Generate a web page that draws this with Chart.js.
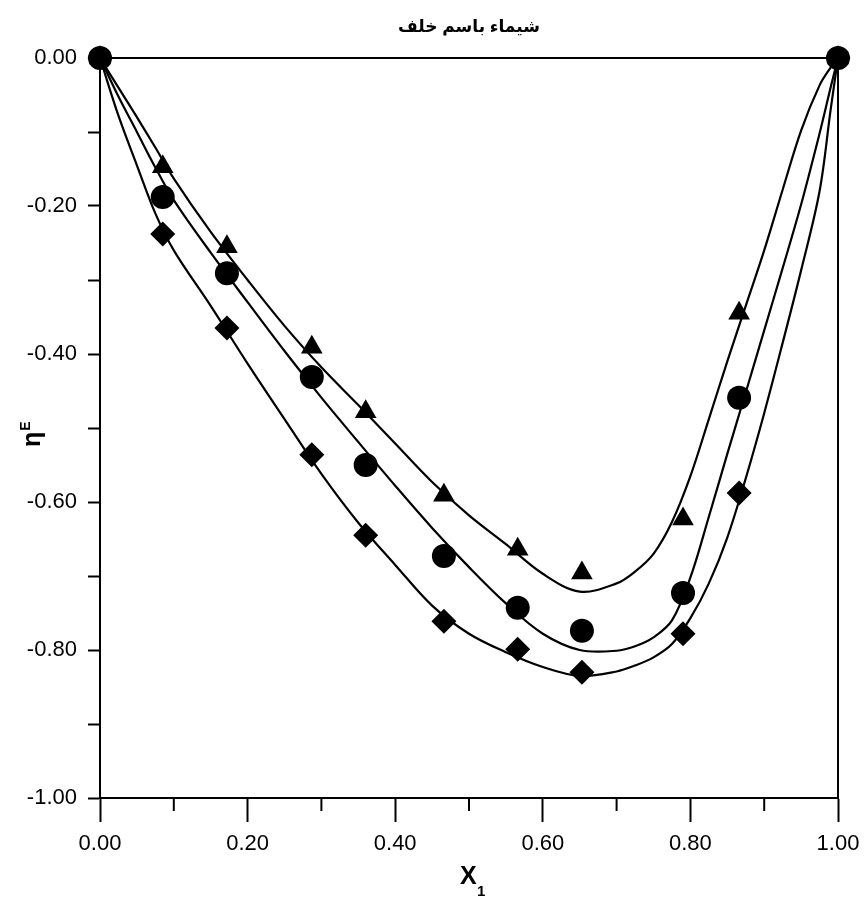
<!DOCTYPE html>
<html>
<head>
<meta charset="utf-8">
<script src="https://cdn.jsdelivr.net/npm/chart.js@4.4.1/dist/chart.umd.min.js"></script>
<style>
  html, body { margin: 0; padding: 0; background: #fff; }
</style>
</head>
<body>
<canvas id="chart" width="864" height="900"></canvas>
<script>
// titulo y ejes
const titleText = 'شيماء باسم خلف';

// puntos experimentales
const markerX = [0, 0.085, 0.172, 0.287, 0.360, 0.466, 0.566, 0.653, 0.790, 0.866, 1];
const triangles = [0, -0.147, -0.255, -0.391, -0.478, -0.591, -0.664, -0.696, -0.623, -0.345, 0];
const circles = [0, -0.188, -0.291, -0.431, -0.550, -0.673, -0.743, -0.774, -0.723, -0.459, 0];
const diamonds = [0, -0.238, -0.365, -0.536, -0.645, -0.761, -0.799, -0.830, -0.778, -0.588, 0];

// curvas ajustadas
const curveX = [0, 0.025, 0.05, 0.075, 0.1, 0.15, 0.2, 0.25, 0.3, 0.35, 0.4, 0.45, 0.5, 0.55, 0.6, 0.65, 0.7, 0.725, 0.75, 0.775, 0.8, 0.825, 0.85, 0.875, 0.9, 0.925, 0.95, 0.975, 0.99, 1];
const curveT = [0, -0.04, -0.08, -0.121, -0.163, -0.235, -0.30, -0.362, -0.418, -0.469, -0.521, -0.573, -0.618, -0.657, -0.697, -0.721, -0.71, -0.694, -0.670, -0.627, -0.565, -0.488, -0.410, -0.335, -0.26, -0.178, -0.098, -0.037, -0.013, 0];
const curveC = [0, -0.052, -0.10, -0.148, -0.192, -0.263, -0.33, -0.396, -0.459, -0.519, -0.578, -0.635, -0.688, -0.737, -0.778, -0.800, -0.801, -0.795, -0.783, -0.760, -0.702, -0.620, -0.535, -0.452, -0.368, -0.284, -0.198, -0.102, -0.04, 0];
const curveD = [0, -0.078, -0.145, -0.21, -0.26, -0.335, -0.413, -0.488, -0.562, -0.628, -0.685, -0.74, -0.778, -0.803, -0.823, -0.835, -0.829, -0.821, -0.81, -0.792, -0.757, -0.71, -0.648, -0.568, -0.48, -0.385, -0.287, -0.18, -0.07, 0];

const fontFam = 'Arial, "Liberation Sans", "DejaVu Sans", sans-serif';

function pts(xs, ys) {
    return xs.map((x, i) => ({ x: x, y: ys[i] }));
}

function isMajor(v) {
    return Math.abs(Math.round(v * 10)) % 2 === 0;
}

function markerSet(ys, style, r) {
    return {
        type: 'scatter',
        data: pts(markerX, ys),
        pointStyle: style,
        pointRadius: r,
        pointBackgroundColor: '#000',
        pointBorderWidth: 0,
        clip: false
    };
}

function curveSet(ys) {
    return {
        type: 'line',
        data: pts(curveX, ys),
        borderColor: '#000',
        borderWidth: 2.2,
        pointRadius: 0,
        tension: 0.35,
        fill: false,
        clip: false
    };
}

// ticks menores del eje x y titulos de ejes
const extras = {
    id: 'extras',
    afterDraw(chart) {
        const c = chart.ctx;
        const xs = chart.scales.x;
        c.save();
        c.strokeStyle = '#000';
        c.lineWidth = 2;
        xs.ticks.forEach(t => {
            if (!isMajor(t.value)) {
                const px = xs.getPixelForValue(t.value);
                c.beginPath();
                c.moveTo(px, xs.top);
                c.lineTo(px, xs.top + 13);
                c.stroke();
            }
        });

        // X1
        c.fillStyle = '#000';
        c.textBaseline = 'alphabetic';
        c.textAlign = 'left';
        c.font = 'bold 25px ' + fontFam;
        c.fillText('X', 460, 884);
        c.font = 'bold 15px ' + fontFam;
        c.fillText('1', 477, 896);

        // eta E
        c.translate(40, 447);
        c.rotate(-Math.PI / 2);
        c.font = 'bold 25px ' + fontFam;
        c.fillText('η', 0, 0);
        const w = c.measureText('η').width;
        c.font = 'bold 14px ' + fontFam;
        c.fillText('E', w + 1, -10);
        c.restore();
    }
};

const ctx = document.getElementById('chart').getContext('2d');
const chart = new Chart(ctx, {
    data: {
        datasets: [
            markerSet(circles, 'circle', 12),
            markerSet(triangles, 'triangle', 12.5),
            markerSet(diamonds, 'rectRot', 12.5),
            curveSet(curveT),
            curveSet(curveC),
            curveSet(curveD)
        ]
    },
    options: {
        responsive: false,
        animation: false,
        layout: { padding: { left: 0, right: 26, top: 0, bottom: 0 } },
        plugins: {
            legend: { display: false },
            tooltip: { enabled: false },
            title: {
                display: true,
                text: titleText,
                fullSize: false,
                color: '#000',
                font: { family: fontFam, size: 17, weight: 'bold', lineHeight: 1.2 },
                padding: { top: 17, bottom: 20.6 }
            }
        },
        scales: {
            x: {
                type: 'linear',
                position: 'bottom',
                min: 0,
                max: 1,
                ticks: {
                    stepSize: 0.1,
                    autoSkip: false,
                    maxRotation: 0,
                    color: '#000',
                    padding: 9,
                    font: { family: fontFam, size: 22 },
                    callback: v => isMajor(v) ? v.toFixed(2) : ''
                },
                grid: {
                    drawOnChartArea: false,
                    tickLength: 24,
                    tickWidth: 2,
                    tickColor: c => (c.tick && !isMajor(c.tick.value)) ? 'rgba(0,0,0,0)' : '#000'
                },
                border: { color: '#000', width: 2 },
                afterFit: s => { s.height = 102; s.paddingLeft = 0; s.paddingRight = 0; }
            },
            y: {
                type: 'linear',
                position: 'left',
                min: -1,
                max: 0,
                ticks: {
                    stepSize: 0.1,
                    autoSkip: false,
                    color: '#000',
                    padding: 11,
                    font: { family: fontFam, size: 22 },
                    callback: v => isMajor(v) ? (Math.abs(v) < 1e-9 ? '0.00' : v.toFixed(2)) : ''
                },
                grid: {
                    drawOnChartArea: false,
                    tickLength: 12,
                    tickWidth: 2,
                    tickColor: '#000'
                },
                border: { color: '#000', width: 2 },
                afterFit: s => { s.width = 100; s.paddingTop = 0; s.paddingBottom = 0; }
            },
            x2: {
                type: 'linear',
                position: 'top',
                min: 0,
                max: 1,
                ticks: { display: false },
                grid: { drawOnChartArea: false, drawTicks: false },
                border: { color: '#000', width: 2 },
                afterFit: s => { s.height = 0; }
            },
            y2: {
                type: 'linear',
                position: 'right',
                min: -1,
                max: 0,
                ticks: { display: false },
                grid: { drawOnChartArea: false, drawTicks: false },
                border: { color: '#000', width: 2 },
                afterFit: s => { s.width = 0; }
            }
        }
    },
    plugins: [extras]
});
</script>
</body>
</html>
